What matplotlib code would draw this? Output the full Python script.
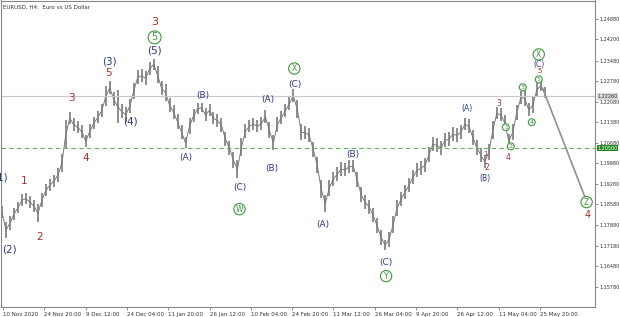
import numpy as np
import matplotlib.pyplot as plt

# price bars (high / low), one every 6 H4 bars
hi = [1.1852, 1.1798, 1.1818, 1.1845, 1.1866, 1.1893, 1.1896, 1.1886, 1.1873, 1.1859,
      1.1896, 1.1927, 1.1944, 1.1958, 1.1981, 1.2029, 1.2145, 1.2172, 1.2151, 1.2141,
      1.2128, 1.2094, 1.2131, 1.2155, 1.2175, 1.2199, 1.2260, 1.2277, 1.2240, 1.2247,
      1.2199, 1.2189, 1.2216, 1.2270, 1.2315, 1.2318, 1.2311, 1.2342, 1.2355, 1.2328,
      1.2277, 1.2267, 1.2219, 1.2196, 1.2165, 1.2128, 1.2087, 1.2151, 1.2182, 1.2202,
      1.2202, 1.2185, 1.2199, 1.2172, 1.2165, 1.2151, 1.2104, 1.2073, 1.2036, 1.2009,
      1.2083, 1.2131, 1.2145, 1.2151, 1.2145, 1.2155, 1.2179, 1.2138, 1.2094, 1.2155,
      1.2175, 1.2199, 1.2223, 1.2250, 1.2213, 1.2131, 1.2124, 1.2117, 1.2070, 1.2019,
      1.1941, 1.1890, 1.1941, 1.1968, 1.1985, 1.2002, 1.1998, 1.2009, 1.2009, 1.1968,
      1.1917, 1.1890, 1.1873, 1.1845, 1.1811, 1.1771, 1.1737, 1.1764, 1.1818, 1.1873,
      1.1900, 1.1924, 1.1947, 1.1975, 1.1998, 1.2005, 1.2015, 1.2053, 1.2087, 1.2083,
      1.2073, 1.2100, 1.2104, 1.2121, 1.2117, 1.2128, 1.2151, 1.2148, 1.2111, 1.2077,
      1.2049, 1.2026, 1.2063, 1.2141, 1.2189, 1.2185, 1.2162, 1.2097, 1.2131, 1.2196,
      1.2243, 1.2247, 1.2202, 1.2223, 1.2270, 1.2281, 1.2257]
lo = [1.1811, 1.1743, 1.1771, 1.1805, 1.1828, 1.1852, 1.1859, 1.1845, 1.1832, 1.1798,
      1.1849, 1.1886, 1.1903, 1.1917, 1.1934, 1.1968, 1.2049, 1.2131, 1.2107, 1.2100,
      1.2083, 1.2053, 1.2083, 1.2114, 1.2134, 1.2155, 1.2192, 1.2233, 1.2192, 1.2134,
      1.2151, 1.2138, 1.2168, 1.2216, 1.2267, 1.2274, 1.2264, 1.2298, 1.2315, 1.2270,
      1.2230, 1.2209, 1.2172, 1.2148, 1.2114, 1.2080, 1.2049, 1.2097, 1.2138, 1.2165,
      1.2172, 1.2141, 1.2158, 1.2131, 1.2121, 1.2104, 1.2056, 1.2026, 1.1981, 1.1947,
      1.2022, 1.2083, 1.2104, 1.2111, 1.2104, 1.2111, 1.2134, 1.2083, 1.2043, 1.2104,
      1.2131, 1.2155, 1.2179, 1.2206, 1.2151, 1.2077, 1.2080, 1.2070, 1.2019, 1.1964,
      1.1879, 1.1832, 1.1886, 1.1920, 1.1937, 1.1954, 1.1954, 1.1964, 1.1968, 1.1917,
      1.1866, 1.1842, 1.1825, 1.1798, 1.1760, 1.1720, 1.1703, 1.1713, 1.1760, 1.1818,
      1.1852, 1.1876, 1.1900, 1.1927, 1.1951, 1.1958, 1.1968, 1.2002, 1.2039, 1.2036,
      1.2026, 1.2053, 1.2056, 1.2073, 1.2070, 1.2080, 1.2111, 1.2100, 1.2060, 1.2026,
      1.2002, 1.1981, 1.2009, 1.2080, 1.2148, 1.2141, 1.2111, 1.2049, 1.2077, 1.2145,
      1.2199, 1.2192, 1.2158, 1.2168, 1.2226, 1.2243, 1.2219]

date_labels = ["10 Nov 2020", "24 Nov 20:00", "9 Dec 12:00", "24 Dec 04:00", "11 Jan 20:00",
               "26 Jan 12:00", "10 Feb 04:00", "24 Feb 20:00", "11 Mar 12:00", "26 Mar 04:00",
               "9 Apr 20:00", "26 Apr 12:00", "11 May 04:00", "25 May 20:00"]
price_ticks = [1.15780, 1.16480, 1.17180, 1.17880, 1.18580, 1.19280, 1.19980,
               1.20680, 1.21380, 1.22080, 1.22780, 1.23480, 1.24200, 1.24880]
level = 1.20500
last_price = 1.22260
proj_x = [135.5, 146.0]
proj_y = [1.2253, 1.1886]

# wave labels: (text, x, y, kind, size)
waves = [
    ("(1)", -0.4, 1.1951, "blue", 7.5), ("(2)", 1.75, 1.1706, "blue", 7.5),
    ("1", 5.5, 1.1937, "red", 7.5), ("2", 9.5, 1.1747, "red", 7.5),
    ("3", 17.5, 1.2219, "red", 7.5), ("4", 21, 1.2015, "red", 7.5),
    ("5", 26.75, 1.2304, "red", 7.5), ("(3)", 27, 1.2345, "blue", 7.5),
    ("(4)", 32.25, 1.2141, "blue", 7.5), ("3", 38.25, 1.2478, "red", 8),
    ("5", 38.25, 1.2427, "circ", 7), ("(5)", 38.25, 1.2383, "blue", 7.5),
    ("(A)", 46, 1.2019, "blue", 6.5), ("(B)", 50.25, 1.2230, "blue", 6.5),
    ("(C)", 59.5, 1.1917, "blue", 6.5), ("W", 59.5, 1.1842, "circ", 5.5),
    ("(A)", 66.5, 1.2216, "blue", 6.5), ("(B)", 67.5, 1.1981, "blue", 6.5),
    ("(C)", 73.5, 1.2267, "blue", 6.5), ("X", 73.25, 1.2321, "circ", 5.5),
    ("(A)", 80.5, 1.1791, "blue", 6.5), ("(B)", 88, 1.2029, "blue", 6.5),
    ("(C)", 96.25, 1.1662, "blue", 6.5), ("Y", 96.25, 1.1614, "circ", 5.5),
    ("(A)", 116.5, 1.2185, "blue", 5.5), ("1", 121.25, 1.2031, "red", 5),
    ("2", 121.5, 1.1985, "red", 5.5), ("(B)", 121, 1.1947, "blue", 5.5),
    ("3", 124.5, 1.2202, "red", 5.5), ("1", 126.25, 1.2121, "circ", 4.5),
    ("2", 127.5, 1.2056, "circ", 4.5), ("4", 126.75, 1.2019, "red", 5.5),
    ("3", 130.5, 1.2257, "circ", 4.5), ("4", 132.75, 1.2138, "circ", 4.5),
    ("5", 134.5, 1.2284, "circ", 4.5), ("5", 134.75, 1.2311, "red", 5),
    ("(C)", 134.5, 1.2335, "blue", 5.5), ("X", 134.5, 1.2369, "circ", 5.5),
    ("Z", 146.5, 1.1866, "circ", 5.5), ("4", 146.75, 1.1822, "red", 7),
]
colors = {"red": "#b52a2a", "blue": "#2b3a8f", "circ": "#3a9a3a"}

fig = plt.figure(figsize=(6.2, 3.17), dpi=100)
ax = fig.add_axes([1 / 620, 10 / 317, 594 / 620, 306.5 / 317])

x = np.arange(len(hi))
hi_a = np.array(hi)
lo_a = np.array(lo)
ax.vlines(x, lo_a, hi_a, color="#7a7a7a", lw=1.2)
ax.plot(x, (hi_a + lo_a) / 2, color="#7a7a7a", lw=0.7)

ax.axhline(last_price, color="#c8c8c8", lw=0.8)
ax.axhline(level, color="#5cb85c", lw=0.8, ls=(0, (4, 3)))
ax.plot(proj_x, proj_y, color="#909090", lw=1.2)

for txt, wx, wy, kind, fs in waves:
    if kind == "circ":
        ax.text(wx, wy, txt, color=colors[kind], fontsize=fs, ha="center", va="center",
                bbox=dict(boxstyle="circle,pad=0.15", fc="white", ec=colors[kind], lw=0.8))
    else:
        ax.text(wx, wy, txt, color=colors[kind], fontsize=fs, ha="center", va="center")

ax.set_xlim(-0.25, 148.6)
ax.set_ylim(1.15088, 1.25526)

tick_pos = [0.25 + 10.35 * k for k in range(len(date_labels))]
ax.set_xticks(tick_pos)
ax.set_xticklabels(date_labels, fontsize=4, color="#333333", ha="left")
ax.tick_params(axis="x", length=2, width=0.5, pad=1.5, colors="#666666", labelcolor="#333333")

ax.yaxis.tick_right()
ax.set_yticks(price_ticks)
ax.set_yticklabels(["%.5f" % p for p in price_ticks], fontsize=3.5, color="#333333")
ax.tick_params(axis="y", length=2, width=0.5, pad=1, colors="#666666", labelcolor="#333333")

for s in ax.spines.values():
    s.set_color("#888888")
    s.set_linewidth(0.8)

# price markers on the right axis
ax.text(1.004, level, "%.5f" % level, transform=ax.get_yaxis_transform(), fontsize=3.5,
        color="white", va="center", ha="left",
        bbox=dict(boxstyle="square,pad=0.15", fc="#1e8c1e", ec="none"))
ax.text(1.004, last_price, "%.5f" % last_price, transform=ax.get_yaxis_transform(), fontsize=3.5,
        color="#333333", va="center", ha="left",
        bbox=dict(boxstyle="square,pad=0.15", fc="#d8d8d8", ec="none"))

ax.text(0.004, 0.985, "EURUSD, H4:  Euro vs US Dollar", transform=ax.transAxes,
        fontsize=4, color="#333333", va="top", ha="left")

fig.savefig("out.png", dpi=100)
